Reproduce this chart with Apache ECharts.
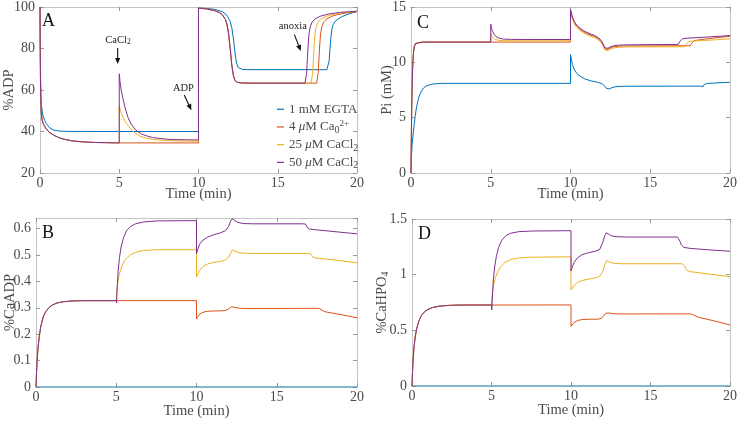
<!DOCTYPE html>
<html><head><meta charset="utf-8">
<script src="https://cdn.jsdelivr.net/npm/echarts@6/dist/echarts.min.js"></script>
<style>html,body{margin:0;padding:0;background:#fff}#c{width:740px;height:421px}</style>
</head><body><div id="c"></div>
<script>
// ---------- DATA: [time (min), value] ----------
// Panel A: %ADP
const adpEGTA = [[0,100],[0.02,80],[0.04,65],[0.06,57],[0.1,52],[0.15,49],[0.2,47.5],[0.3,45.3],[0.4,43.8],[0.6,41.8],[0.85,40.7],[1.2,40.2],[1.8,40.05],[5,40],[10,40],[10,99.5],[10.5,99.3],[11,98.9],[11.5,97.8],[11.8,96],[12,93],[12.1,90],[12.2,85],[12.3,78],[12.4,73],[12.5,70.8],[12.6,70.1],[12.8,69.85],[13.5,69.8],[18.1,69.8],[18.18,70.5],[18.24,74],[18.3,80],[18.36,86],[18.42,89.5],[18.5,91.6],[18.65,93.3],[18.85,94.5],[19.1,95.5],[19.5,96.7],[20,97.8]];
const adpCa0 = [[0,100],[0.015,80],[0.03,65],[0.05,55],[0.08,49],[0.12,46],[0.2,43.8],[0.37,41.5],[0.6,39.5],[0.87,38.2],[1.2,37],[1.5,36.3],[2,35.5],[2.7,35],[3.5,34.7],[5,34.5],[10,34.5],[10,99.5],[10.5,99.1],[11,98.3],[11.3,97.4],[11.5,96.3],[11.7,94],[11.8,91.5],[11.9,87],[12,80],[12.1,72],[12.2,67],[12.3,64.6],[12.45,63.7],[12.7,63.4],[13.5,63.3],[17.45,63.3],[17.5,64.2],[17.55,68],[17.6,75],[17.65,82],[17.7,87],[17.78,90.5],[17.9,92.8],[18.1,94.3],[18.4,95.5],[18.8,96.4],[19.3,97.1],[20,97.8]];
const adpCa25 = [[0,100],[0.015,80],[0.03,65],[0.05,55],[0.08,49],[0.12,46],[0.2,43.8],[0.37,41.5],[0.6,39.5],[0.87,38.2],[1.2,37],[1.5,36.3],[2,35.5],[2.7,35],[3.5,34.7],[5,34.5],[5,52.4],[5.08,50],[5.15,48.5],[5.25,46.8],[5.4,44.5],[5.55,42.8],[5.75,41],[6,39.2],[6.3,37.8],[6.7,36.8],[7.1,36.2],[7.7,35.8],[8.5,35.5],[10,35.3],[10,99.5],[10.5,99.1],[11,98.3],[11.3,97.4],[11.5,96.3],[11.7,94],[11.8,91.5],[11.9,87],[12,80],[12.1,72],[12.2,67],[12.3,64.6],[12.45,63.7],[12.7,63.4],[13.5,63.3],[17.1,63.3],[17.15,64.2],[17.2,68],[17.25,75],[17.3,82],[17.35,87],[17.43,90.5],[17.55,92.8],[17.75,94.3],[18.1,95.6],[18.6,96.6],[19.2,97.3],[20,97.9]];
const adpCa50 = [[0,100],[0.015,80],[0.03,65],[0.05,55],[0.08,49],[0.12,46],[0.2,43.8],[0.37,41.5],[0.6,39.5],[0.87,38.2],[1.2,37],[1.5,36.3],[2,35.5],[2.7,35],[3.5,34.7],[5,34.5],[5,67.8],[5.05,64],[5.12,60],[5.23,56],[5.35,52],[5.55,46.8],[5.75,43.6],[6.06,40.5],[6.4,38.8],[6.8,37.7],[7.1,37.1],[7.7,36.5],[8.4,36.1],[10,35.9],[10,99.5],[10.5,99.1],[11,98.3],[11.3,97.4],[11.5,96.3],[11.7,94],[11.8,91.5],[11.9,87],[12,80],[12.1,72],[12.2,67],[12.3,64.6],[12.45,63.7],[12.7,63.4],[13.5,63.3],[16.72,63.3],[16.77,64.2],[16.82,68],[16.87,75],[16.92,82],[16.97,87],[17.05,90.5],[17.17,92.8],[17.37,94.3],[17.7,95.6],[18.2,96.6],[18.9,97.4],[20,98]];

// Panel B: %CaADP
const caadpEGTA = [[0,0],[20,0]];
const caadpCa0 = [[0,0],[0.03,0.05],[0.07,0.1],[0.12,0.145],[0.2,0.19],[0.3,0.23],[0.45,0.265],[0.6,0.285],[0.8,0.3],[1,0.31],[1.3,0.318],[1.7,0.323],[2.3,0.326],[3,0.327],[10,0.327],[10,0.258],[10.08,0.266],[10.2,0.276],[10.4,0.283],[10.7,0.287],[11.2,0.288],[11.7,0.289],[11.9,0.292],[12.05,0.298],[12.18,0.304],[12.26,0.305],[12.4,0.301],[12.7,0.298],[13.2,0.297],[17.5,0.298],[17.58,0.301],[17.65,0.297],[17.75,0.29],[18,0.285],[19,0.274],[20,0.262]];
const caadpCa25 = [[0,0],[0.03,0.05],[0.07,0.1],[0.12,0.145],[0.2,0.19],[0.3,0.23],[0.45,0.265],[0.6,0.285],[0.8,0.3],[1,0.31],[1.3,0.318],[1.7,0.323],[2.3,0.326],[3,0.327],[5,0.327],[5.03,0.36],[5.08,0.39],[5.15,0.415],[5.25,0.44],[5.4,0.465],[5.6,0.485],[5.85,0.5],[6.2,0.51],[6.7,0.517],[7.5,0.52],[10,0.52],[10,0.417],[10.08,0.428],[10.2,0.442],[10.4,0.456],[10.7,0.466],[11.1,0.472],[11.5,0.476],[11.8,0.481],[12,0.492],[12.15,0.51],[12.25,0.52],[12.4,0.514],[12.7,0.508],[13.2,0.506],[17,0.506],[17.08,0.511],[17.15,0.502],[17.25,0.492],[17.45,0.488],[18,0.485],[19,0.478],[20,0.47]];
const caadpCa50 = [[0,0],[0.03,0.05],[0.07,0.1],[0.12,0.145],[0.2,0.19],[0.3,0.23],[0.45,0.265],[0.6,0.285],[0.8,0.3],[1,0.31],[1.3,0.318],[1.7,0.323],[2.3,0.326],[3,0.327],[5,0.327],[5.02,0.318],[5.06,0.38],[5.12,0.44],[5.2,0.49],[5.3,0.53],[5.45,0.565],[5.65,0.593],[5.9,0.608],[6.2,0.618],[6.7,0.625],[7.5,0.629],[10,0.63],[10,0.505],[10.08,0.522],[10.2,0.541],[10.4,0.556],[10.7,0.568],[11.1,0.577],[11.5,0.584],[11.8,0.592],[12,0.608],[12.12,0.628],[12.22,0.637],[12.35,0.632],[12.55,0.624],[12.9,0.619],[13.5,0.618],[16.6,0.618],[16.72,0.625],[16.8,0.617],[16.9,0.604],[17.05,0.598],[17.5,0.595],[18.5,0.589],[20,0.58]];

// Panel C: Pi (mM)
const piEGTA = [[0,0],[0.03,1.5],[0.07,2.6],[0.14,3.6],[0.25,5],[0.35,6],[0.5,6.9],[0.65,7.4],[0.8,7.7],[1,7.9],[1.4,8.05],[2,8.1],[10,8.1],[10,10.7],[10.05,10.3],[10.12,9.8],[10.25,9.3],[10.4,9],[10.6,8.75],[10.9,8.5],[11.3,8.32],[11.7,8.2],[12,8.05],[12.15,7.85],[12.25,7.65],[12.35,7.55],[12.45,7.6],[12.6,7.72],[12.85,7.8],[13.3,7.84],[18.15,7.85],[18.22,7.8],[18.27,7.72],[18.32,7.8],[18.38,8],[18.45,8.08],[18.6,8.1],[20,8.2]];
const piCa0 = [[0,0],[0.02,3],[0.05,6.5],[0.1,9.5],[0.15,10.8],[0.2,11.4],[0.28,11.7],[0.4,11.8],[0.7,11.83],[10,11.83],[10,14.7],[10.05,14.4],[10.12,14],[10.25,13.55],[10.4,13.25],[10.6,12.98],[10.8,12.78],[11,12.62],[11.25,12.47],[11.5,12.33],[11.7,12.17],[11.85,12],[11.98,11.75],[12.08,11.45],[12.17,11.2],[12.25,11.12],[12.35,11.17],[12.5,11.3],[12.7,11.4],[13,11.45],[13.5,11.48],[17.5,11.5],[17.55,11.56],[17.6,11.72],[17.66,11.88],[17.75,11.96],[18,12.02],[19,12.2],[20,12.35]];
const piCa25 = [[0,0],[0.02,3],[0.05,6.5],[0.1,9.5],[0.15,10.8],[0.2,11.4],[0.28,11.7],[0.4,11.8],[0.7,11.83],[5,11.83],[5,12.6],[5.05,12.4],[5.12,12.25],[5.25,12.1],[5.45,12],[5.7,11.96],[6.2,11.95],[10,11.95],[10,14.6],[10.05,14.3],[10.12,13.9],[10.25,13.45],[10.4,13.15],[10.6,12.88],[10.8,12.68],[11,12.52],[11.25,12.37],[11.5,12.23],[11.7,12.07],[11.85,11.9],[11.98,11.65],[12.08,11.35],[12.17,11.1],[12.25,11.02],[12.35,11.07],[12.5,11.2],[12.7,11.3],[13,11.36],[13.5,11.39],[17.15,11.41],[17.2,11.48],[17.26,11.65],[17.32,11.8],[17.42,11.87],[17.7,11.92],[19,12.03],[20,12.12]];
const piCa50 = [[0,0],[0.02,3],[0.05,6.5],[0.1,9.5],[0.15,10.8],[0.2,11.4],[0.28,11.7],[0.4,11.8],[0.7,11.83],[5,11.83],[5,13.45],[5.04,13.15],[5.1,12.85],[5.2,12.55],[5.35,12.3],[5.55,12.17],[5.8,12.1],[6.3,12.07],[10,12.06],[10,14.8],[10.05,14.5],[10.12,14.1],[10.25,13.65],[10.4,13.35],[10.6,13.08],[10.8,12.88],[11,12.72],[11.25,12.57],[11.5,12.43],[11.7,12.27],[11.85,12.1],[11.98,11.85],[12.08,11.55],[12.17,11.3],[12.25,11.22],[12.35,11.27],[12.5,11.4],[12.7,11.5],[13,11.55],[13.5,11.58],[16.75,11.62],[16.8,11.7],[16.86,11.88],[16.93,12.05],[17.03,12.13],[17.3,12.18],[18.5,12.28],[20,12.42]];

// Panel D: %CaHPO4
const cahpoEGTA = [[0,0],[20,0]];
const cahpoCa0 = [[0,0],[0.03,0.12],[0.07,0.24],[0.12,0.34],[0.2,0.44],[0.3,0.52],[0.45,0.59],[0.6,0.635],[0.8,0.668],[1,0.688],[1.3,0.705],[1.7,0.717],[2.3,0.724],[3,0.727],[10,0.728],[10,0.535],[10.08,0.552],[10.2,0.572],[10.4,0.588],[10.7,0.597],[11.2,0.6],[11.7,0.6],[11.9,0.608],[12.05,0.628],[12.18,0.653],[12.26,0.662],[12.4,0.656],[12.7,0.649],[13.2,0.647],[17.5,0.648],[17.58,0.652],[17.65,0.642],[17.75,0.628],[18,0.618],[19,0.585],[20,0.548]];
const cahpoCa25 = [[0,0],[0.03,0.12],[0.07,0.24],[0.12,0.34],[0.2,0.44],[0.3,0.52],[0.45,0.59],[0.6,0.635],[0.8,0.668],[1,0.688],[1.3,0.705],[1.7,0.717],[2.3,0.724],[3,0.727],[5,0.728],[5.03,0.79],[5.08,0.86],[5.15,0.92],[5.25,0.975],[5.4,1.03],[5.6,1.075],[5.85,1.11],[6.2,1.135],[6.7,1.15],[7.5,1.157],[10,1.16],[10,0.862],[10.08,0.88],[10.2,0.905],[10.4,0.93],[10.7,0.948],[11.1,0.96],[11.5,0.97],[11.8,0.985],[12,1.03],[12.15,1.1],[12.25,1.126],[12.4,1.113],[12.7,1.102],[13.2,1.098],[17,1.098],[17.08,1.1],[17.15,1.075],[17.25,1.045],[17.45,1.028],[18,1.018],[19,1],[20,0.982]];
const cahpoCa50 = [[0,0],[0.03,0.12],[0.07,0.24],[0.12,0.34],[0.2,0.44],[0.3,0.52],[0.45,0.59],[0.6,0.635],[0.8,0.668],[1,0.688],[1.3,0.705],[1.7,0.717],[2.3,0.724],[3,0.727],[5,0.728],[5.02,0.683],[5.06,0.82],[5.12,0.96],[5.2,1.07],[5.3,1.16],[5.45,1.245],[5.65,1.31],[5.9,1.35],[6.2,1.372],[6.7,1.386],[7.5,1.392],[10,1.395],[10,1.033],[10.08,1.07],[10.2,1.11],[10.4,1.15],[10.7,1.18],[11.1,1.197],[11.5,1.21],[11.8,1.225],[12,1.29],[12.12,1.35],[12.22,1.377],[12.35,1.365],[12.55,1.348],[12.9,1.341],[13.5,1.338],[16.7,1.338],[16.78,1.335],[16.85,1.3],[16.95,1.265],[17.1,1.245],[17.5,1.236],[18.5,1.225],[20,1.21]];

// Names, labels, ticks
const seriesNames = ['1 mM EGTA', '4 μM Ca0 2+', '25 μM CaCl2', '50 μM CaCl2'];
const legendLabels = ['1 mM EGTA', '4 {it|μ}M Ca{sub|0}{sup|2+}', '25 {it|μ}M CaCl{sub|2}', '50 {it|μ}M CaCl{sub|2}'];
const panelLetters = ['A', 'B', 'C', 'D'];
const yNames = ['%ADP', '%CaADP', 'Pi (mM)', '%CaHPO{sub|4}'];
const xName = 'Time (min)';
const xRange = [0, 20, 5];
const yRanges = [[20, 100, 20], [0, 0.64, 0.1], [0, 15, 5], [0, 1.5, 0.5]];
const panelData = [
  [adpEGTA, adpCa0, adpCa25, adpCa50],
  [caadpEGTA, caadpCa0, caadpCa25, caadpCa50],
  [piEGTA, piCa0, piCa25, piCa50],
  [cahpoEGTA, cahpoCa0, cahpoCa25, cahpoCa50]
];
// Annotations in panel A (data coordinates)
const annotations = [
  {text: 'CaCl{sub|2}', at: [4.92, 83.8], from: [4.9, 80.2], to: [4.9, 72.5]},
  {text: 'ADP', at: [9.05, 61], from: [9.1, 57.6], to: [9.55, 50.3]},
  {text: 'anoxia', at: [15.95, 90.5], from: [16.05, 86.7], to: [16.45, 78.8]}
];

// ---------- STYLE / LAYOUT ----------
const FONT = '"Liberation Serif","Times New Roman",serif';
const TXT = '#4a4a4a';
const COLORS = ['#0072BD', '#D95319', '#EDB120', '#7E2F8E'];
const AXC = '#c4c4c4';
const grids = [
  {left: 36, top: 5, width: 321, height: 168},
  {left: 36, top: 218, width: 321, height: 169},
  {left: 411, top: 7, width: 322, height: 166},
  {left: 412, top: 219, width: 321, height: 167}
];
const yNameGaps = [23, 18, 16, 22];
const xNameGaps = [14, 17, 14, 17];
const rich = {
  sub: {fontSize: 10, verticalAlign: 'bottom', fontFamily: FONT, color: TXT, fontWeight: 'normal'},
  sup: {fontSize: 9, verticalAlign: 'top', fontFamily: FONT, color: TXT, fontWeight: 'normal'},
  it: {fontStyle: 'italic', fontFamily: FONT, color: TXT, fontSize: 13, fontWeight: 'normal'}
};

const xAxes = [], yAxes = [], series = [];
grids.forEach((g, i) => {
  xAxes.push({
    type: 'value', gridIndex: i, position: 'bottom', min: xRange[0], max: xRange[1], interval: xRange[2],
    axisLine: {show: true, onZero: false, lineStyle: {color: AXC}},
    axisTick: {inside: true, length: 4, lineStyle: {color: '#999'}},
    axisLabel: {fontFamily: FONT, fontSize: 14, color: TXT, margin: 3, fontWeight: 'normal'},
    splitLine: {show: false},
    name: xName, nameLocation: 'middle', nameGap: xNameGaps[i], nameMoveOverlap: false,
    nameTextStyle: {fontFamily: FONT, fontSize: 14.5, color: TXT, fontWeight: 'normal'}
  });
  xAxes.push({
    type: 'value', gridIndex: i, position: 'top', min: xRange[0], max: xRange[1], interval: xRange[2],
    axisLine: {show: true, onZero: false, lineStyle: {color: AXC}},
    axisTick: {inside: true, length: 4, lineStyle: {color: '#999'}},
    axisLabel: {show: false}, splitLine: {show: false}
  });
  const yr = yRanges[i];
  yAxes.push({
    type: 'value', gridIndex: i, position: 'left', min: yr[0], max: yr[1], interval: yr[2],
    axisLine: {show: true, onZero: false, lineStyle: {color: AXC}},
    axisTick: {inside: true, length: 4, lineStyle: {color: '#999'}},
    axisLabel: {fontFamily: FONT, fontSize: 14, color: TXT, margin: 5, fontWeight: 'normal', showMaxLabel: i !== 1},
    splitLine: {show: false},
    name: yNames[i], nameLocation: 'middle', nameGap: yNameGaps[i], nameRotate: 90, nameMoveOverlap: false,
    nameTextStyle: {fontFamily: FONT, fontSize: 14.5, color: TXT, lineHeight: 16, fontWeight: 'normal', rich: rich}
  });
  yAxes.push({
    type: 'value', gridIndex: i, position: 'right', min: yr[0], max: yr[1], interval: yr[2],
    axisLine: {show: true, onZero: false, lineStyle: {color: AXC}},
    axisTick: {inside: true, length: 4, lineStyle: {color: '#999'}},
    axisLabel: {show: false}, splitLine: {show: false}
  });
  panelData[i].forEach((d, k) => {
    series.push({
      type: 'line', name: seriesNames[k], xAxisIndex: 2 * i, yAxisIndex: 2 * i,
      data: d, showSymbol: false, symbol: 'none', z: 2 + k,
      lineStyle: {width: 1, color: COLORS[k]}, itemStyle: {color: COLORS[k]},
      emphasis: {disabled: true}
    });
  });
});

const chart = echarts.init(document.getElementById('c'), null, {renderer: 'canvas'});
chart.setOption({
  animation: false,
  backgroundColor: '#fff',
  grid: grids.map(g => Object.assign({containLabel: false}, g)),
  xAxis: xAxes, yAxis: yAxes, series: series,
  legend: {
    data: seriesNames, orient: 'vertical', left: 277, top: 101,
    icon: 'rect', itemWidth: 7, itemHeight: 1.2, itemGap: 1.2,
    backgroundColor: 'rgba(255,255,255,0)', padding: 0,
    formatter: n => legendLabels[seriesNames.indexOf(n)],
    textStyle: {fontFamily: FONT, fontSize: 13, color: TXT, lineHeight: 16.5, fontWeight: 'normal', rich: rich}
  }
});

// ---------- panel letters and annotations ----------
const gr = [];
grids.forEach((g, i) => {
  gr.push({type: 'text', left: g.left + 6, top: g.top + (i === 1 || i === 3 ? 6 : 7),
    style: {text: panelLetters[i], fontFamily: FONT, fontSize: 18, fill: '#111'}});
});
function arrow(p1, p2) {
  const dx = p2[0] - p1[0], dy = p2[1] - p1[1], L = Math.hypot(dx, dy), ux = dx / L, uy = dy / L;
  const hl = 6, hw = 2.6;
  const bx = p2[0] - ux * hl, by = p2[1] - uy * hl;
  return [
    {type: 'line', shape: {x1: p1[0], y1: p1[1], x2: bx, y2: by}, style: {stroke: '#111', lineWidth: 1.1}},
    {type: 'polygon', shape: {points: [[p2[0], p2[1]], [bx - uy * hw, by + ux * hw], [bx + uy * hw, by - ux * hw]]}, style: {fill: '#111'}}
  ];
}
annotations.forEach(a => {
  const p = chart.convertToPixel({gridIndex: 0}, a.at);
  const p1 = chart.convertToPixel({gridIndex: 0}, a.from);
  const p2 = chart.convertToPixel({gridIndex: 0}, a.to);
  gr.push({type: 'text', x: p[0], y: p[1],
    style: {text: a.text, fontFamily: FONT, fontSize: 10.5, fill: '#222', align: 'center', verticalAlign: 'middle',
      textAlign: 'center', textVerticalAlign: 'middle',
      rich: {sub: {fontSize: 7.5, verticalAlign: 'bottom', fontFamily: FONT, fill: '#222', color: '#222'}}}});
  arrow(p1, p2).forEach(e => gr.push(e));
});
chart.setOption({graphic: gr});
</script>
</body></html>
